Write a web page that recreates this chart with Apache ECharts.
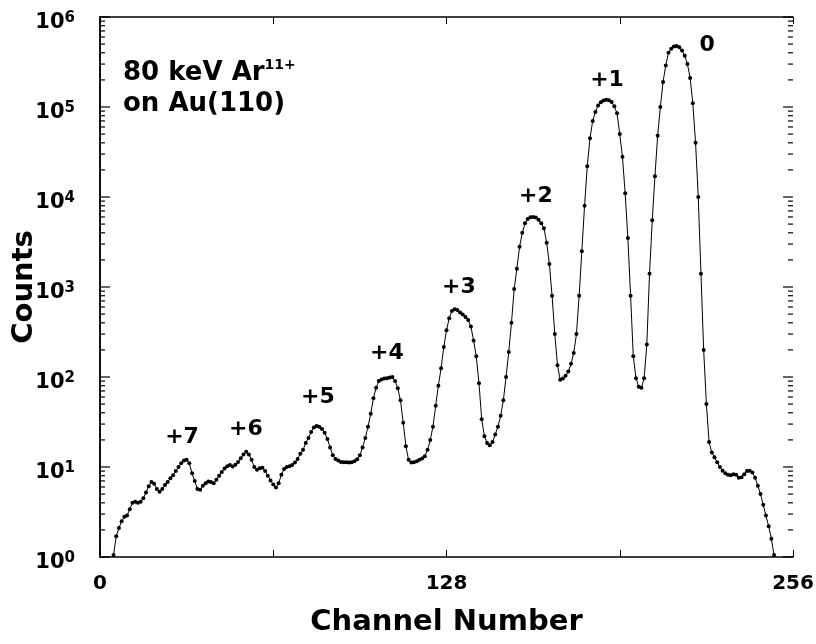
<!DOCTYPE html>
<html>
<head>
<meta charset="utf-8">
<script src="https://cdn.jsdelivr.net/npm/echarts@6/dist/echarts.min.js"></script>
<style>
  html, body { margin: 0; padding: 0; background: #fff; }
  #chart { width: 816px; height: 644px; }
</style>
</head>
<body>
<div id="chart"></div>
<script>
// counts per channel, starting at channel 5
const firstChannel = 5
const counts = [
  1.05, 1.7, 2.1, 2.5, 2.8, 2.9, 3.4, 4.0, 4.1, 4.0,
  4.1, 4.5, 5.2, 6.1, 6.8, 6.5, 5.7, 5.3, 5.7, 6.3,
  6.8, 7.5, 8.1, 9.0, 10.0, 11.0, 11.8, 12.0, 11.0, 8.5,
  7.0, 5.7, 5.6, 6.2, 6.6, 6.9, 6.8, 6.6, 7.2, 8.0,
  8.8, 9.6, 10.2, 10.5, 10.1, 10.6, 11.4, 12.5, 13.8, 14.8,
  13.8, 12.0, 10.0, 9.3, 9.7, 9.8, 9.0, 8.0, 7.1, 6.4,
  5.9, 6.6, 8.2, 9.5, 10.0, 10.2, 10.5, 11.2, 12.3, 14.0,
  15.5, 18.5, 21, 24.5, 27.5, 28.6, 28, 26.5, 24, 20.5,
  16.5, 13.5, 12.3, 11.8, 11.4, 11.3, 11.3, 11.2, 11.3, 11.6,
  12.2, 13.5, 16.5, 21, 28, 39, 58, 76, 90, 94,
  96, 97, 99, 100, 90, 75, 55, 31, 17, 12,
  11.2, 11.3, 11.6, 12.0, 12.4, 13.2, 15.5, 20, 28, 48,
  80, 125, 215, 330, 450, 540, 565, 555, 520, 495,
  465, 430, 365, 255, 170, 85, 34, 22, 18.5, 17.5,
  19, 23, 28, 37, 55, 100, 190, 400, 950, 1600,
  2800, 4000, 5100, 5700, 5950, 6000, 5900, 5600, 5100, 4500,
  3100, 1800, 800, 300, 135, 93, 96, 103, 115, 140,
  185, 300, 800, 2500, 8000, 22000, 45000, 70000, 88000, 104000,
  113000, 118000, 120000, 119000, 114000, 102000, 85000, 50000, 28000, 11000,
  3500, 800, 170, 97, 78, 76, 97, 230, 1400, 5500,
  17000, 48000, 100000, 190000, 290000, 400000, 445000, 470000, 475000, 460000,
  425000, 370000, 300000, 210000, 110000, 40000, 10000, 1400, 200, 50,
  19, 14.5, 12.8, 11.3, 10.0, 9.1, 8.5, 8.2, 8.1, 8.3,
  8.2, 7.6, 7.7, 8.3, 9.0, 9.1, 8.7, 7.6, 6.2, 5.0,
  3.8, 2.9, 2.2, 1.6, 1.05
]
// charge-state labels: text, channel, counts
const peakLabels = ['+7', '+6', '+5', '+4', '+3', '+2', '+1', '0']
const peakLabelChannels = [30.3, 53.9, 80.5, 106, 132.6, 161, 187.3, 224.3]
const peakLabelCounts = [21.5, 26, 60, 185, 1000, 10200, 200000, 490000]
const xTickLabels = [0, 128, 256]

const font = '"DejaVu Sans", "Liberation Sans", sans-serif'

const spectrum = counts.map((v, i) => [firstChannel + i, v])
const labelPoints = peakLabels.map((t, i) => ({ value: [peakLabelChannels[i], peakLabelCounts[i]], name: t }))

// log ticks: decades (major) and 2..9 (minor)
const yTicks = []
for (let k = 0; k <= 6; k++) {
  yTicks.push([Math.pow(10, k), 1])
  if (k < 6) {
    for (let m = 2; m <= 9; m++) yTicks.push([m * Math.pow(10, k), 0])
  }
}

const myChart = echarts.init(document.getElementById('chart'))
const axisLine = { show: true, lineStyle: { color: '#000', width: 1.5 } }
const option = {
  backgroundColor: '#fff',
  animation: false,
  grid: { left: 100, right: 23, top: 17, bottom: 87, containLabel: false, outerBoundsMode: 'none' },
  xAxis: [
    {
      type: 'value',
      min: 0,
      max: 256,
      interval: 64,
      name: 'Channel Number',
      nameLocation: 'middle',
      nameGap: 51,
      nameTextStyle: { fontFamily: font, fontWeight: 'bold', fontSize: 29, color: '#000' },
      axisLine: axisLine,
      axisTick: { show: true, inside: true, length: 7, lineStyle: { color: '#000' } },
      axisLabel: {
        margin: 17,
        fontFamily: font,
        fontWeight: 'bold',
        fontSize: 20,
        color: '#000',
        formatter: v => (xTickLabels.indexOf(v) >= 0 ? String(v) : '')
      },
      splitLine: { show: false }
    },
    {
      type: 'value',
      position: 'top',
      min: 0,
      max: 256,
      interval: 64,
      axisLine: axisLine,
      axisTick: { show: true, inside: true, length: 7, lineStyle: { color: '#000' } },
      axisLabel: { show: false },
      splitLine: { show: false }
    }
  ],
  yAxis: [
    {
      type: 'log',
      logBase: 10,
      min: 1,
      max: 1000000,
      name: 'Counts',
      nameLocation: 'middle',
      nameGap: 61,
      nameMoveOverlap: false,
      nameTextStyle: { fontFamily: font, fontWeight: 'bold', fontSize: 29, color: '#000' },
      axisLine: axisLine,
      axisTick: { show: false },
      axisLabel: {
        margin: 25,
        padding: [12, 0, 0, 0],
        color: '#000',
        formatter: v => '{b|10}{s|' + Math.round(Math.log10(v)) + '}',
        rich: {
          b: { fontFamily: font, fontWeight: 'bold', fontSize: 21, color: '#000', lineHeight: 24 },
          s: { fontFamily: font, fontWeight: 'bold', fontSize: 15, color: '#000', verticalAlign: 'top', lineHeight: 24 }
        }
      },
      splitLine: { show: false }
    },
    {
      type: 'log',
      logBase: 10,
      min: 1,
      max: 1000000,
      position: 'right',
      axisLine: axisLine,
      axisTick: { show: false },
      axisLabel: { show: false },
      splitLine: { show: false }
    }
  ],
  graphic: [
    {
      type: 'text',
      left: 123,
      top: 58,
      style: {
        text: '{b|80 keV Ar}{s|11+}',
        rich: {
          b: { fontFamily: font, fontWeight: 'bold', fontSize: 26, fill: '#000', lineHeight: 30 },
          s: { fontFamily: font, fontWeight: 'bold', fontSize: 14, fill: '#000', verticalAlign: 'top', lineHeight: 30 }
        }
      }
    },
    {
      type: 'text',
      left: 123,
      top: 91,
      style: { text: 'on Au(110)', font: 'bold 26px ' + font, fill: '#000' }
    }
  ],
  series: [
    {
      type: 'line',
      data: spectrum,
      symbol: 'circle',
      symbolSize: 4,
      showAllSymbol: true,
      itemStyle: { color: '#000' },
      lineStyle: { color: '#000', width: 1 },
      z: 3
    },
    {
      type: 'scatter',
      data: labelPoints,
      symbolSize: 0,
      itemStyle: { opacity: 1 },
      label: {
        show: true,
        position: 'inside',
        formatter: p => p.name,
        fontFamily: font,
        fontWeight: 'bold',
        fontSize: 22,
        color: '#000'
      },
      z: 4
    }
  ]
}
myChart.setOption(option)

// inside log ticks on left and right frame, placed through the chart's own scales
const tickLines = []
yTicks.forEach(t => {
  const len = t[1] ? 10 : 5
  const l = myChart.convertToPixel({ xAxisIndex: 0, yAxisIndex: 0 }, [0, t[0]])
  const r = myChart.convertToPixel({ xAxisIndex: 0, yAxisIndex: 0 }, [256, t[0]])
  tickLines.push({ type: 'line', z: 10, shape: { x1: l[0], y1: l[1], x2: l[0] + len, y2: l[1] }, style: { stroke: '#000', lineWidth: 1.2 } })
  tickLines.push({ type: 'line', z: 10, shape: { x1: r[0], y1: r[1], x2: r[0] - len, y2: r[1] }, style: { stroke: '#000', lineWidth: 1.2 } })
})
myChart.setOption({ graphic: option.graphic.concat(tickLines) })
</script>
</body>
</html>
